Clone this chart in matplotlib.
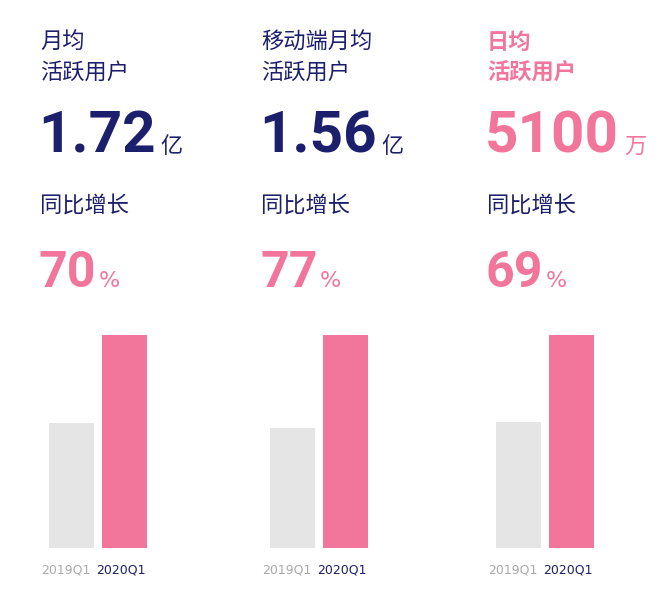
import matplotlib
matplotlib.use("Agg")
import matplotlib.pyplot as plt

titles = [["月均", "活跃用户"], ["移动端月均", "活跃用户"], ["日均", "活跃用户"]]
big_values = ["1.72", "1.56", "5100"]
units = ["亿", "亿", "万"]
growth_label = "同比增长"
growth = ["70", "77", "69"]
periods = ["2019Q1", "2020Q1"]
vals_2019 = [1.01, 0.88, 3018]
vals_2020 = [1.72, 1.56, 5100]

NAVY = "#1c1f6b"
PINK = "#f2769c"
GREY = "#e5e5e5"
CJK = "Noto Sans CJK SC"
NUM = ["Roboto", "DejaVu Sans"]

W, H = 660, 598
fig = plt.figure(figsize=(W/100, H/100), dpi=100)
fig.patch.set_facecolor("white")

def ft(x, y, s, **kw):
    return fig.text(x/W, 1 - y/H, s, **kw)

lefts = [40, 261, 487]
for i in range(3):
    x0 = lefts[i]
    tc = PINK if i == 2 else NAVY
    tw = "bold" if i == 2 else "normal"
    ft(x0, 42, titles[i][0], fontsize=16, family=CJK, color=tc, weight=tw, va="center")
    ft(x0, 72, titles[i][1], fontsize=16, family=CJK, color=tc, weight=tw, va="center")
    t = ft(x0 - 2, 153, big_values[i], fontsize=42, family=NUM, weight="bold",
           color=tc, va="baseline")
    fig.canvas.draw()
    bb = t.get_window_extent()
    ft(bb.x1 + 5, 153, units[i], fontsize=16, family=CJK, color=tc, va="baseline")
    ft(x0, 205, growth_label, fontsize=16, family=CJK, color=NAVY, va="center")
    t2 = ft(x0 - 1, 287, growth[i], fontsize=36, family=NUM, weight="bold",
            color=PINK, va="baseline")
    fig.canvas.draw()
    bb2 = t2.get_window_extent()
    ft(bb2.x1 + 2, 287, "%", fontsize=16, family="DejaVu Sans", color=PINK, va="baseline")

    axl = x0 + 4
    ax = fig.add_axes([axl/W, 1 - 548/H, 110/W, 228/H])
    ax.bar([0, 1], [vals_2019[i], vals_2020[i]], width=0.85, color=[GREY, PINK])
    ax.set_xlim(-27.5/53, (110 - 27.5)/53)
    ax.set_ylim(0, vals_2020[i] * 228/213)
    ax.axis("off")
    ft(axl + 22, 570, periods[0], fontsize=9, family="DejaVu Sans", color="#aaaaaa", ha="center", va="center")
    ft(axl + 77, 570, periods[1], fontsize=9, family="DejaVu Sans", color=NAVY, ha="center", va="center")

fig.savefig("out.png", dpi=100, facecolor="white")
